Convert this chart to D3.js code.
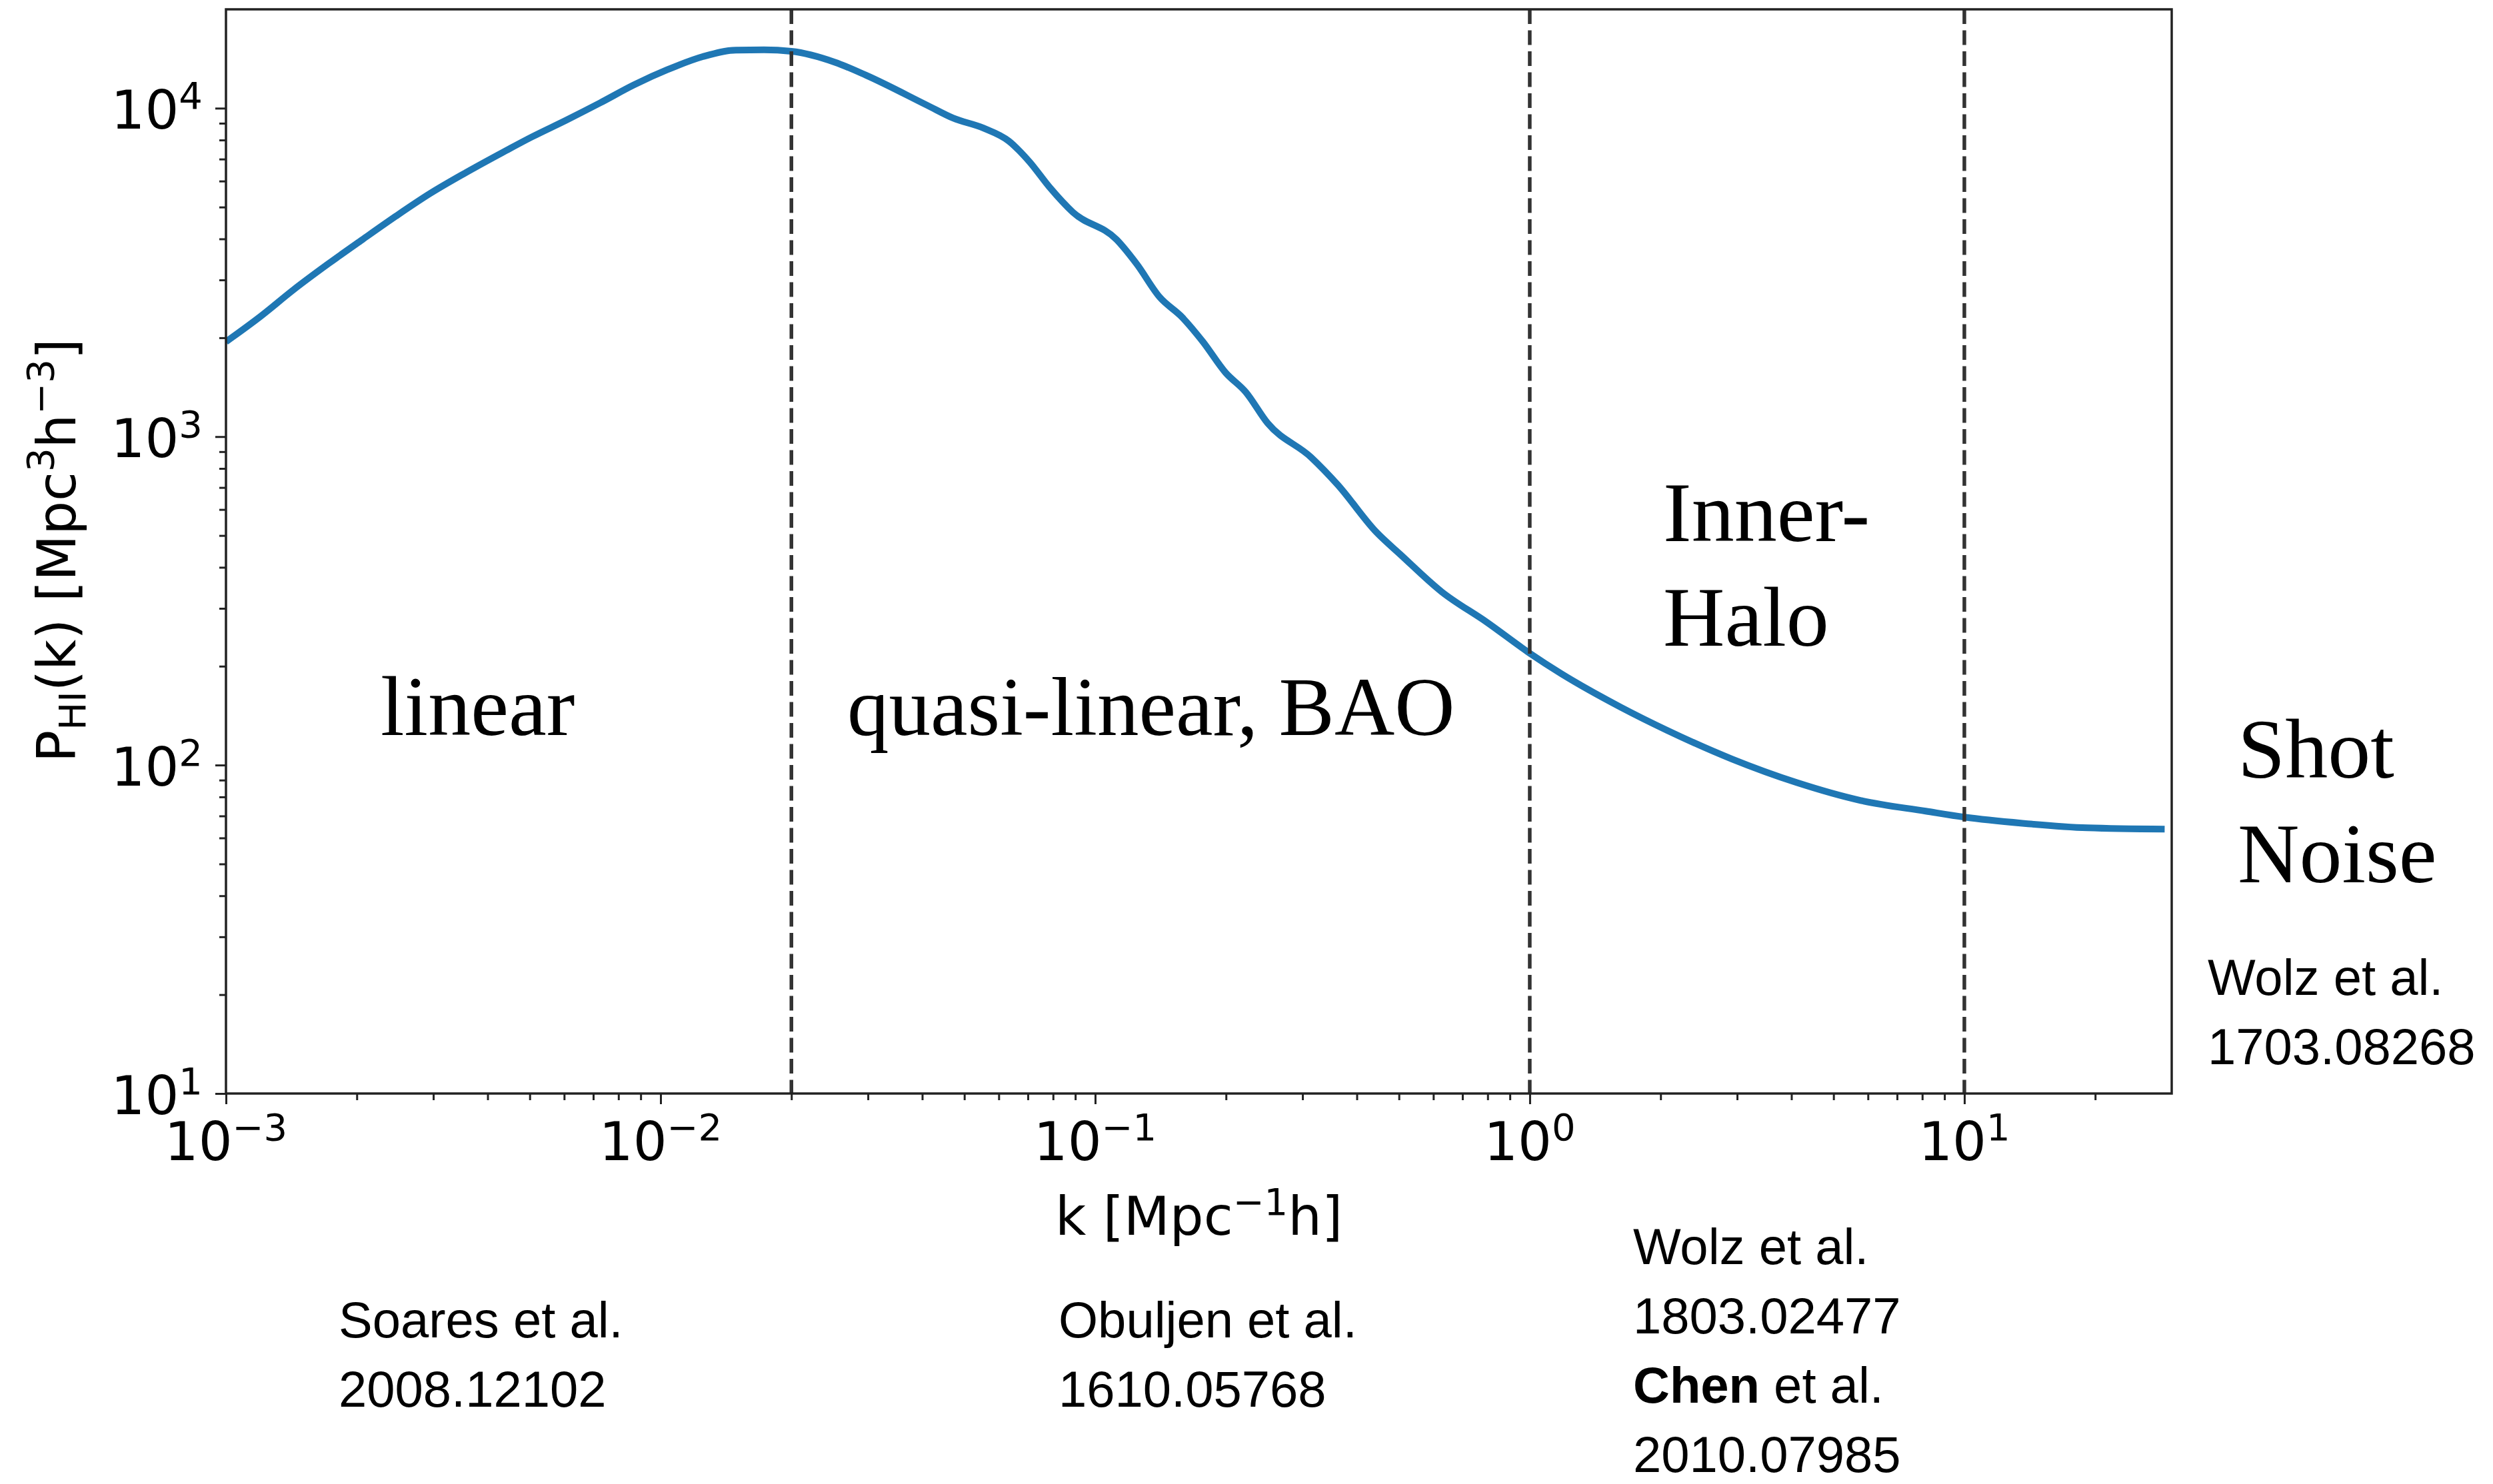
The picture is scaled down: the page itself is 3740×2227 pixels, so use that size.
<!DOCTYPE html>
<html>
<head>
<meta charset="utf-8">
<script src="https://cdn.jsdelivr.net/npm/d3@7"></script>
<style>
  body { margin: 0; background: #fff; }
  svg { display: block; }
</style>
</head>
<body>
<svg id="chart"></svg>
<script>
// HI power spectrum
const kValues = [0.001, 0.0012, 0.00143, 0.00172, 0.00206, 0.00246, 0.00295, 0.00353, 0.00423, 0.00506,
  0.00606, 0.00726, 0.00869, 0.0104, 0.0125, 0.0149, 0.0173, 0.02, 0.0252, 0.0297,
  0.0411, 0.0471, 0.0553, 0.0633, 0.0706, 0.0785, 0.0889, 0.112, 0.1245, 0.1407,
  0.1585, 0.177, 0.1995, 0.222, 0.2494, 0.314, 0.3614, 0.4436, 0.5036, 0.627,
  0.794, 1.0, 1.18, 1.62, 2.07, 2.92, 4.11, 5.78, 8.15, 10, 13.6, 19.2, 28.9]
const powerValues = [1945, 2322, 2800, 3360, 3980, 4690, 5500, 6320, 7210, 8180,
  9190, 10380, 11780, 13120, 14350, 15030, 15050, 14900, 13800, 12600,
  10200, 9330, 8700, 7940, 6870, 5750, 4820, 3980, 3360, 2660,
  2310, 1945, 1567, 1368, 1099, 865, 714, 512, 438, 337,
  273, 219, 190, 150, 127.6, 104.3, 88.5, 78.0, 72.4, 69.4, 66.5, 64.4, 63.8]

const kDomain = [1e-3, 30]
const pDomain = [10, 2e4]
const kTickExponents = [-3, -2, -1, 0, 1]
const pTickExponents = [1, 2, 3, 4]
const boundaryK = [0.02, 1, 10] //dashed region borders

const regionLabels = [["linear"], ["quasi-linear, BAO"], ["Inner-", "Halo"], ["Shot", "Noise"]]
const references = [
  ["Wolz et al.", "1703.08268"],
  ["Soares et al.", "2008.12102"],
  ["Obuljen et al.", "1610.05768"],
  ["Wolz et al.", "1803.02477", "Chen|et al.", "2010.07985"]
]

const W = 3740, H = 2227
const plot = {left: 339, right: 3258, top: 14, bottom: 1641}
const ink = "#222"

const svg = d3.select("#chart").attr("width", W).attr("height", H)

const x = d3.scaleLog().domain(kDomain).range([plot.left, plot.right])
const y = d3.scaleLog().domain(pDomain).range([plot.bottom, plot.top])

//minor ticks 2..9 per decade, kept inside the domain
const minors = (dom) => {
  let out = []
  for (let e = Math.floor(Math.log10(dom[0])); e <= Math.ceil(Math.log10(dom[1])); e++)
    for (let m = 2; m <= 9; m++) {
      let v = m * Math.pow(10, e)
      if (v > dom[0] && v < dom[1]) out.push(v)
    }
  return out
}

function styleAxis(g) {
  g.select(".domain").remove()
  g.selectAll("line").attr("stroke", ink).attr("stroke-width", 3)
}

svg.append("g").attr("transform", `translate(0,${plot.bottom})`)
  .call(d3.axisBottom(x).tickValues(kTickExponents.map(e => Math.pow(10, e))).tickSize(16).tickFormat(""))
  .call(styleAxis)
svg.append("g").attr("transform", `translate(0,${plot.bottom})`)
  .call(d3.axisBottom(x).tickValues(minors(kDomain)).tickSize(10).tickFormat(""))
  .call(styleAxis)
svg.append("g").attr("transform", `translate(${plot.left},0)`)
  .call(d3.axisLeft(y).tickValues(pTickExponents.map(e => Math.pow(10, e))).tickSize(16).tickFormat(""))
  .call(styleAxis)
svg.append("g").attr("transform", `translate(${plot.left},0)`)
  .call(d3.axisLeft(y).tickValues(minors(pDomain)).tickSize(10).tickFormat(""))
  .call(styleAxis)

//power-of-ten labels, mathtext look
const sup = (t, e) => {
  t.append("tspan").text("10")
  t.append("tspan").attr("font-size", 56).attr("dy", -30).text(e < 0 ? "\u2212" + (-e) : e)
}
const tickFont = "'DejaVu Sans', sans-serif"

svg.append("g").selectAll("text").data(kTickExponents).join("text")
  .attr("x", d => x(Math.pow(10, d))).attr("y", plot.bottom + 100)
  .attr("text-anchor", "middle").attr("font-family", tickFont).attr("font-size", 80)
  .each(function(d) { sup(d3.select(this), d) })

svg.append("g").selectAll("text").data(pTickExponents).join("text")
  .attr("x", plot.left - 35).attr("y", d => y(Math.pow(10, d)) + 31)
  .attr("text-anchor", "end").attr("font-family", tickFont).attr("font-size", 80)
  .each(function(d) { sup(d3.select(this), d) })

//axis titles
let xl = svg.append("text").attr("x", (plot.left + plot.right) / 2).attr("y", 1853)
  .attr("text-anchor", "middle").attr("font-family", tickFont).attr("font-size", 80)
xl.append("tspan").text("k [Mpc")
xl.append("tspan").attr("font-size", 56).attr("dy", -30).text("\u22121")
xl.append("tspan").attr("dy", 30).text("h]")

let yl = svg.append("text").attr("transform", "translate(113,826) rotate(-90)")
  .attr("text-anchor", "middle").attr("font-family", tickFont).attr("font-size", 80)
yl.append("tspan").text("P")
yl.append("tspan").attr("font-size", 56).attr("dy", 15).text("HI")
yl.append("tspan").attr("dy", -15).text("(k) [Mpc")
yl.append("tspan").attr("font-size", 56).attr("dy", -33).text("3")
yl.append("tspan").attr("dy", 33).text("h")
yl.append("tspan").attr("font-size", 56).attr("dy", -33).text("\u22123")
yl.append("tspan").attr("dy", 33).text("]")

//curve
svg.append("clipPath").attr("id", "clip").append("rect")
  .attr("x", plot.left).attr("y", plot.top)
  .attr("width", plot.right - plot.left).attr("height", plot.bottom - plot.top)

let line = d3.line().x((d, i) => x(kValues[i])).y(d => y(d)).curve(d3.curveMonotoneX)
svg.append("path").datum(powerValues)
  .attr("clip-path", "url(#clip)")
  .attr("fill", "none").attr("stroke", "#1f77b4").attr("stroke-width", 10)
  .attr("stroke-linejoin", "round")
  .attr("d", line)

svg.append("g").selectAll("line").data(boundaryK).join("line")
  .attr("x1", d => x(d)).attr("x2", d => x(d))
  .attr("y1", plot.top).attr("y2", plot.bottom)
  .attr("stroke", "#333").attr("stroke-width", 5.5).attr("stroke-dasharray", "22,9.5")

//frame
svg.append("rect").attr("x", plot.left).attr("y", plot.top)
  .attr("width", plot.right - plot.left).attr("height", plot.bottom - plot.top)
  .attr("fill", "none").attr("stroke", ink).attr("stroke-width", 3.5)

//region names
const serif = "'Liberation Serif', 'Times New Roman', serif"
const regionPos = [[571, 1103], [1271, 1103], [2495, 812], [3357, 1167]]
regionLabels.forEach((lines, i) => {
  lines.forEach((s, j) => {
    svg.append("text").attr("x", regionPos[i][0]).attr("y", regionPos[i][1] + j * 157)
      .attr("font-family", serif).attr("font-size", i == 1 ? 125 : 128).attr("fill", "#000").text(s)
  })
})

//references
const sans = "'Liberation Sans', Arial, sans-serif"
const refPos = [[3312, 1493], [508, 2007], [1588, 2007], [2450, 1897]]
references.forEach((lines, i) => {
  lines.forEach((s, j) => {
    let t = svg.append("text").attr("x", refPos[i][0]).attr("y", refPos[i][1] + j * 104)
      .attr("font-family", sans).attr("font-size", 76).attr("fill", "#000")
    if (s.includes("|")) {
      let [b, rest] = s.split("|")
      t.append("tspan").attr("font-weight", "bold").text(b)
      t.append("tspan").text(" " + rest)
    } else t.text(s)
  })
})
</script>
</body>
</html>
